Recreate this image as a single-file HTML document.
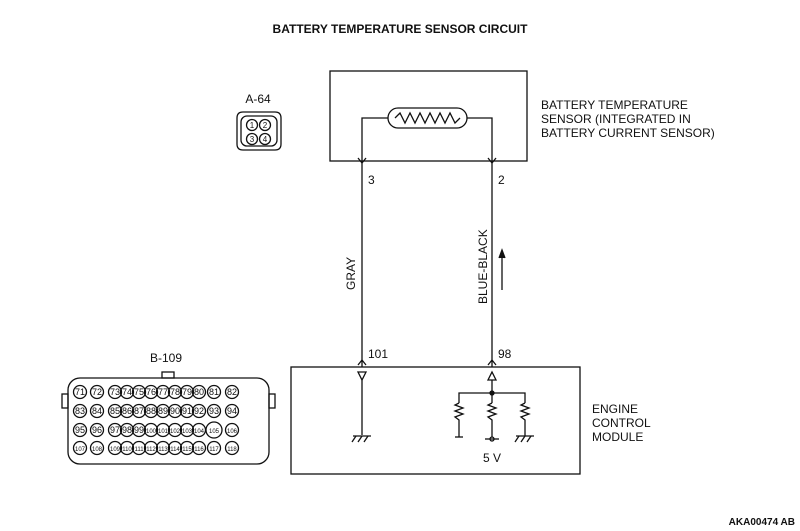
<!DOCTYPE html>
<html><head><style>
body{margin:0;background:#fff}
svg{display:block}
text{font-family:"Liberation Sans",sans-serif;fill:#111}
</style></head><body>
<svg width="800" height="531" viewBox="0 0 800 531" xmlns="http://www.w3.org/2000/svg">
<g stroke="#111" fill="none" stroke-width="1.3">
<text x="400" y="33" font-size="12" font-weight="bold" text-anchor="middle" stroke="none">BATTERY TEMPERATURE SENSOR CIRCUIT</text>
<rect x="330" y="71" width="197" height="90"/>
<rect x="388" y="108" width="79" height="20" rx="10"/>
<polyline points="395,118 400,113 405,123 410,113 415,123 420,113 425,123 430,113 435,123 440,113 445,123 450,113 455,123 460,118"/>
<polyline points="388,118 362,118 362,367"/>
<polyline points="467,118 492,118 492,367"/>
<polyline points="358,158 362,163 366,158"/>
<polyline points="488,158 492,163 496,158"/>
<polyline points="358,365 362,360 366,365"/>
<polyline points="488,365 492,360 496,365"/>
<rect x="291" y="367" width="289" height="107"/>
<polygon points="358,372 366,372 362,380"/>
<line x1="362" y1="380" x2="362" y2="435"/>
<line x1="353" y1="436" x2="371" y2="436"/>
<line x1="356" y1="436" x2="352" y2="442"/><line x1="362" y1="436" x2="358" y2="442"/><line x1="368" y1="436" x2="364" y2="442"/>
<polygon points="488,380 496,380 492,372"/>
<line x1="492" y1="380" x2="492" y2="403"/>
<polyline points="459,403 459,393 525,393 525,403"/>
<circle cx="492" cy="393" r="2" fill="#111"/>
<polyline points="459,403 455,405 463,408 455,411 463,414 455,417 459,420 459,437"/>
<line x1="455" y1="437" x2="463" y2="437"/>
<polyline points="492,403 488,405 496,408 488,411 496,414 488,417 492,420 492,437"/>
<circle cx="492" cy="439" r="2"/><line x1="485" y1="439" x2="499" y2="439"/>
<polyline points="525,403 521,405 529,408 521,411 529,414 521,417 525,420 525,436"/>
<line x1="516" y1="436" x2="534" y2="436"/>
<line x1="519" y1="436" x2="515" y2="442"/><line x1="525" y1="436" x2="521" y2="442"/><line x1="531" y1="436" x2="527" y2="442"/>
<line x1="502" y1="290" x2="502" y2="252"/>
<polyline points="499,258 502,250 505,258" fill="#111"/>
<path d="M243,112 L275,112 Q281,112 281,118 L281,144 Q281,150 275,150 L243,150 Q237,150 237,144 L237,118 Q237,112 243,112Z"/>
<rect x="241" y="116" width="36" height="30" rx="6"/>
<circle cx="252" cy="125" r="5.5"/><circle cx="265" cy="125" r="5.5"/><circle cx="252" cy="139" r="5.5"/><circle cx="265" cy="139" r="5.5"/>
<rect x="68" y="378" width="201" height="86" rx="12"/>
<rect x="162" y="372" width="12" height="6"/>
<rect x="62" y="394" width="6" height="14"/><rect x="269" y="394" width="6" height="14"/>
</g>
<g font-size="12">
<text x="368" y="184">3</text><text x="498" y="184">2</text>
<text x="368" y="358">101</text><text x="498" y="358">98</text>
<text transform="translate(355,290) rotate(-90)">GRAY</text>
<text transform="translate(487,304) rotate(-90)">BLUE-BLACK</text>
<text x="541" y="109">BATTERY TEMPERATURE</text>
<text x="541" y="123">SENSOR (INTEGRATED IN</text>
<text x="541" y="137">BATTERY CURRENT SENSOR)</text>
<text x="592" y="413">ENGINE</text>
<text x="592" y="427">CONTROL</text>
<text x="592" y="441">MODULE</text>
<text x="492" y="462" text-anchor="middle">5 V</text>
<text x="258" y="103" text-anchor="middle">A-64</text>
<text x="166" y="362" text-anchor="middle">B-109</text>
<text x="795" y="525" text-anchor="end" font-size="10" font-weight="bold">AKA00474 AB</text>
</g>
<g font-size="8" text-anchor="middle" stroke="none">
<text x="252" y="128">1</text><text x="265" y="128">2</text><text x="252" y="142">3</text><text x="265" y="142">4</text>
</g>
<g id="pins" text-anchor="middle"></g>
<script>
var g=document.getElementById('pins'),xs=[80,97,115,127,139,151,163,175,187,199,214,232];
var ys=[392,411,430,448],ns="http://www.w3.org/2000/svg";
for(var r=0;r<4;r++)for(var c=0;c<12;c++){var n=71+r*12+c;
var ci=document.createElementNS(ns,'circle');ci.setAttribute('cx',xs[c]);ci.setAttribute('cy',ys[r]);ci.setAttribute('r',(n==105)?8:6.5);ci.setAttribute('fill','none');ci.setAttribute('stroke','#111');ci.setAttribute('stroke-width','1.3');g.appendChild(ci);
var t=document.createElementNS(ns,'text');t.setAttribute('x',xs[c]);t.setAttribute('y',ys[r]+3);t.setAttribute('font-size',n>99?'6':'9');t.textContent=n;g.appendChild(t);}
</script>
</svg>
</body></html>
